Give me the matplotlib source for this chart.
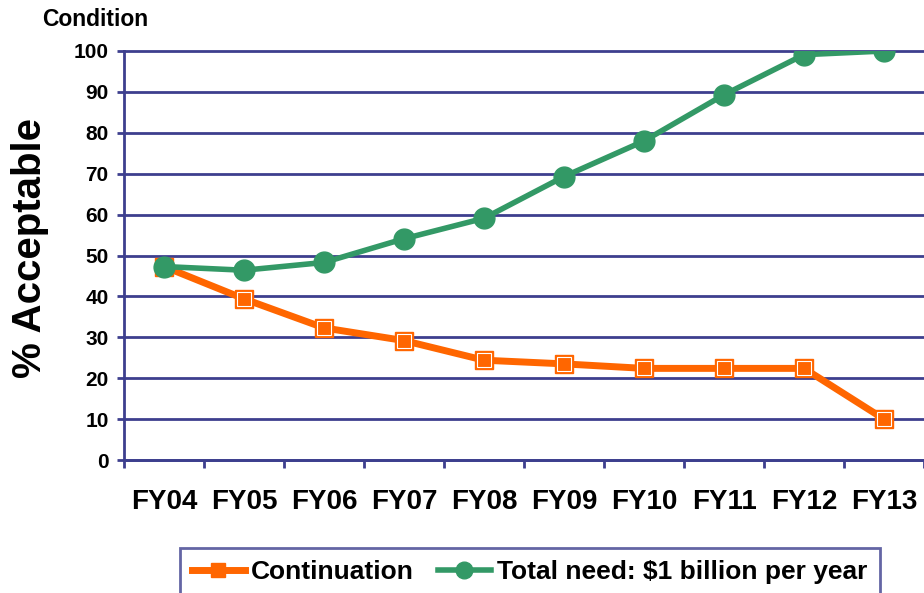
import numpy as np
import matplotlib.pyplot as plt

plt.rcParams['font.family'] = ['Liberation Sans', 'DejaVu Sans']
plt.rcParams['font.weight'] = 'bold'

years = ['FY04', 'FY05', 'FY06', 'FY07', 'FY08', 'FY09', 'FY10', 'FY11', 'FY12', 'FY13']
continuation = [47.3, 39.4, 32.3, 29.2, 24.4, 23.5, 22.4, 22.4, 22.4, 10.0]
total_need = [47.3, 46.4, 48.3, 54.1, 59.1, 69.3, 78.0, 89.3, 99.1, 100.0]

navy = '#3D3F8E'
orange = '#FF6600'
green = '#339966'

fig = plt.figure(figsize=(9.24, 5.93), dpi=100)
ax = fig.add_axes([124/924, 133/593, 800/924, 409/593])

x = np.arange(len(years))
ax.set_ylim(0, 100)
ax.set_xlim(-0.5, len(years) - 0.5)
ax.set_yticks(np.arange(0, 101, 10))
ax.yaxis.grid(True, color=navy, lw=2)
ax.set_axisbelow(True)

ax.plot(x, continuation, color=orange, lw=5, marker='s', ms=12.5,
        mfc=orange, mec=orange, label='Continuation', zorder=3)
ax.plot(x, continuation, ls='none', marker='s', ms=10, mfc=orange, mec='white',
        mew=0.8, zorder=3.5)
ax.plot(x, total_need, color=green, lw=4, marker='o', ms=15,
        mfc=green, mec=green, label='Total need: $1 billion per year', zorder=4)

for s in ['top', 'right']:
    ax.spines[s].set_visible(False)
for s in ['left', 'bottom']:
    ax.spines[s].set_color(navy)
    ax.spines[s].set_linewidth(2)

ax.set_xticks(x)
ax.set_xticklabels(years, fontsize=20, fontweight='bold')
ax.tick_params(axis='x', which='major', length=0, pad=21)
ax.set_xticks(np.arange(-0.5, len(years), 1.0), minor=True)
ax.tick_params(axis='x', which='minor', length=6, width=2, color=navy)
ax.tick_params(axis='y', length=5, width=2, color=navy, pad=6, labelsize=15)
for t in ax.get_yticklabels():
    t.set_fontweight('bold')
for g in ax.get_ygridlines():
    g.set_clip_on(False)

fig.text(0.032, 0.582, '% Acceptable', rotation=90, fontsize=29,
         fontweight='bold', ha='center', va='center')
fig.text(95/924, 1 - 20/593, 'Condition', fontsize=16.5, fontweight='bold',
         ha='center', va='center')

leg = fig.legend(loc='upper left', bbox_to_anchor=(180/924, 1 - 548/593), ncol=2,
                 fontsize=19, frameon=True, fancybox=False, edgecolor=navy,
                 handlelength=2.0, handletextpad=0.25, columnspacing=0.9,
                 borderpad=0.45, borderaxespad=0, markerscale=0.8)
leg.get_frame().set_linewidth(2)

fig.savefig('out.png', dpi=100)
